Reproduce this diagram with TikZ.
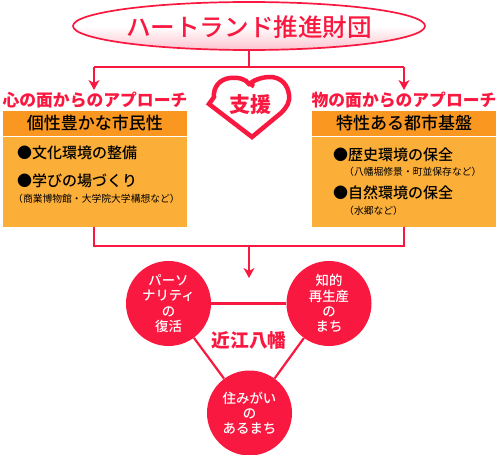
\documentclass[tikz,border=0pt]{standalone}
\usepackage{fontspec}
\setmainfont{Noto Sans CJK JP}
\newfontfamily\medfont{Noto Sans CJK JP Medium}
\usetikzlibrary{arrows.meta,shapes.geometric}
\definecolor{rd}{HTML}{F9183F}
\definecolor{hdr}{HTML}{F99720}
\definecolor{bdy}{HTML}{FBAE38}
\definecolor{pnk}{HTML}{FDC4D0}
\tikzset{
  x=1pt,y=-1pt,
  link/.style={draw=rd,line width=1.2pt},
  arr/.style={link,-{Stealth[length=10pt,width=11pt,inset=3pt]}},
  headtxt/.style={text=rd,font=\bfseries\fontsize{16.8}{17}\selectfont,inner sep=0pt},
  hdrbox/.style={fill=hdr,draw=none,minimum width=184pt,minimum height=25pt,inner sep=0pt,font=\medfont\fontsize{17}{17}\selectfont},
  bodybox/.style={fill=bdy,draw=none,minimum width=184pt,minimum height=90pt,inner sep=0pt},
  item/.style={anchor=west,inner sep=0pt,font=\medfont\fontsize{15}{15}\selectfont},
  sub/.style={anchor=west,inner sep=0pt,font=\fontsize{9.8}{10}\selectfont},
  circ/.style={circle,fill=rd,draw=none,minimum size=85pt,inner sep=0pt,text=white,align=center,font=\medfont\fontsize{13.4}{15.2}\selectfont},
}
\begin{document}
\begin{tikzpicture}
\useasboundingbox (0,0) rectangle (496,455);
\node[ellipse,minimum width=352pt,minimum height=48pt,inner sep=0pt,draw=rd,line width=1.7pt,top color=white,bottom color=pnk,middle color=white] (top) at (249,26) {};
\node[text=rd,inner sep=0pt,font=\medfont\fontsize{24.6}{25}\selectfont] (toptxt) at (249,27) {ハートランド推進財団};
\coordinate (bj) at (249,67);
\coordinate (tl) at (94,67);
\coordinate (tr) at (404,67);
\coordinate (al) at (94,90);
\coordinate (ar) at (404,90);
\draw[link] (top.south) -- (bj);
\draw[link] (tl) -- (tr);
\draw[arr] (tl) -- (al);
\draw[arr] (tr) -- (ar);
% heart
\draw[draw=rd,line width=4.5pt,line join=miter] (251,87)
  .. controls (254,84) and (252,82) .. (249,84)
  .. controls (246,79) and (238,77) .. (230,78)
  .. controls (220,79) and (213,87) .. (214,97)
  -- (209,104) -- (252,137) -- (281,113)
  .. controls (287,107) and (290,102) .. (289,95)
  .. controls (288,85) and (281,77) .. (270,77)
  .. controls (262,77) and (254,80) .. (249,84);
\node[text=rd,inner sep=0pt,font=\bfseries\fontsize{21}{21}\selectfont] (shien) at (250,105) {支援};
\node[headtxt] (hl) at (95,100) {心の面からのアプローチ};
\node[headtxt] (hr) at (404,100) {物の面からのアプローチ};
\node[hdrbox] (bl) at (95,123.5) {個性豊かな市民性};
\node[hdrbox] (br) at (404,123.5) {特性ある都市基盤};
\node[bodybox] (cl) at (95,182) {};
\node[bodybox] (cr) at (404,182) {};
\node[item] (i1) at (17,153) {●文化環境の整備};
\node[item] (i2) at (17,181) {●学びの場づくり};
\node[sub] (i3) at (13,199) {（商業博物館・大学院大学構想など）};
\node[item] (i4) at (333,155) {●歴史環境の保全};
\node[sub] (i5) at (344,172) {（八幡堀修景・町並保存など）};
\node[item] (i6) at (333,193) {●自然環境の保全};
\node[sub] (i7) at (344,211) {（水郷など）};
\coordinate (bjl) at (94,246);
\coordinate (bjr) at (404,246);
\coordinate (bjm) at (249,246);
\coordinate (am) at (249,278);
\draw[link] (cl.south -| bjl) -- (bjl) -- (bjr) -- (cr.south -| bjr);
\draw[arr] (bjm) -- (am);
\node[circ] (c1) at (168.5,303.5) {パーソ\\ナリティ\\の\\復活};
\node[circ] (c2) at (329,303.5) {知的\\再生産\\の\\まち};
\node[circ] (c3) at (249.5,413) {住みがい\\の\\あるまち};
\draw[rd,line width=2.2pt] (c1) -- (c2);
\draw[rd,line width=2.2pt] (c1) -- (c3);
\draw[rd,line width=2.2pt] (c2) -- (c3);
\node[text=rd,inner sep=0pt,font=\bfseries\fontsize{18.7}{19}\selectfont] (oh) at (249,340) {近江八幡};
\end{tikzpicture}
\end{document}
